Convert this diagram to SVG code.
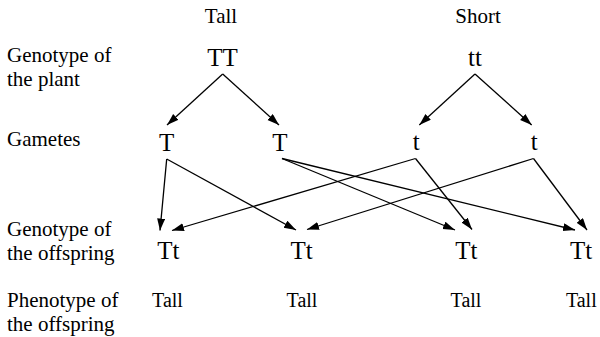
<svg xmlns="http://www.w3.org/2000/svg" width="600" height="337" viewBox="0 0 600 337">
<defs>
<style>
text{font-family:"Liberation Serif","Times New Roman",serif;fill:#000}
.lab{font-size:21px}
.hd{font-size:21px;text-anchor:middle}
.big{font-size:25px;text-anchor:middle}
.ph{font-size:20px;text-anchor:middle}
#connectors line{stroke:#000;stroke-width:1.3;fill:none;marker-end:url(#ah)}
</style>
<marker id="ah" markerUnits="userSpaceOnUse" markerWidth="13" markerHeight="9" refX="12" refY="4" orient="auto">
<path d="M0,0 L12,4 L0,8 z" fill="#000"/>
</marker>
</defs>
<rect width="600" height="337" fill="#fff"/>
<g id="row-labels">
<text class="lab" x="7" y="62">Genotype of</text>
<text class="lab" x="7" y="86">the plant</text>
<text class="lab" x="7" y="146">Gametes</text>
<text class="lab" x="7" y="236">Genotype of</text>
<text class="lab" x="7" y="260">the offspring</text>
<text class="lab" x="7" y="307">Phenotype of</text>
<text class="lab" x="7" y="331">the offspring</text>
</g>
<g id="hdr-tall"><text class="hd" x="221" y="23">Tall</text></g>
<g id="hdr-short"><text class="hd" x="478" y="23">Short</text></g>
<g id="parent-TT"><text class="big" x="222.5" y="66">TT</text></g>
<g id="parent-tt"><text class="big" x="475" y="66">tt</text></g>
<g id="gamete-T1"><text class="big" x="166.7" y="151">T</text></g>
<g id="gamete-T2"><text class="big" x="280" y="151">T</text></g>
<g id="gamete-t1"><text class="big" x="416.3" y="150">t</text></g>
<g id="gamete-t2"><text class="big" x="534.3" y="150">t</text></g>
<g id="off-1"><text class="big" x="168.3" y="259">Tt</text></g>
<g id="off-2"><text class="big" x="301.5" y="259">Tt</text></g>
<g id="off-3"><text class="big" x="466.3" y="259">Tt</text></g>
<g id="off-4"><text class="big" x="581" y="259">Tt</text></g>
<g id="pheno-1"><text class="ph" x="167.5" y="307">Tall</text></g>
<g id="pheno-2"><text class="ph" x="302" y="307">Tall</text></g>
<g id="pheno-3"><text class="ph" x="466" y="307">Tall</text></g>
<g id="pheno-4"><text class="ph" x="581.3" y="307">Tall</text></g>
<g id="connectors">
<line x1="222.7" y1="74" x2="167" y2="125"/>
<line x1="222.7" y1="74" x2="279" y2="125"/>
<line x1="475" y1="74" x2="419.3" y2="125"/>
<line x1="475" y1="74" x2="531.7" y2="125"/>
<line x1="166.7" y1="159" x2="160" y2="230.5"/>
<line x1="166.7" y1="159" x2="296" y2="230"/>
<line x1="282" y1="158.5" x2="455" y2="230"/>
<line x1="282" y1="158.5" x2="575" y2="230"/>
<line x1="415.5" y1="158.5" x2="172" y2="230.5"/>
<line x1="415.5" y1="158.5" x2="472" y2="229.5"/>
<line x1="533.5" y1="158.5" x2="307" y2="229.5"/>
<line x1="533.5" y1="158.5" x2="587" y2="230"/>
</g>
</svg>
